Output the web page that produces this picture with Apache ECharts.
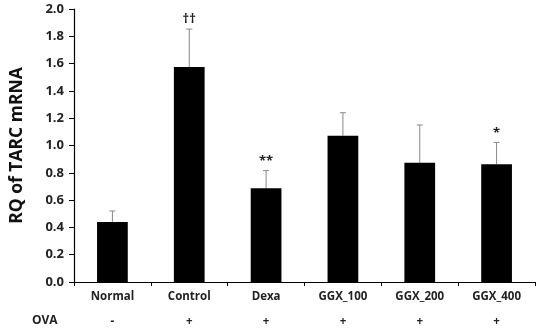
<!DOCTYPE html>
<html><head><meta charset="utf-8">
<script src="https://cdn.jsdelivr.net/npm/echarts@6/dist/echarts.min.js"></script>
<style>html,body{margin:0;padding:0;background:#fff}#c{width:540px;height:333px}</style>
</head><body><div id="c"></div>
<script>
var categories = ['Normal','Control','Dexa','GGX_100','GGX_200','GGX_400'];
var ova = ['-','+','+','+','+','+'];
var means = [0.44, 1.575, 0.686, 1.072, 0.874, 0.862];
var errors = [0.08, 0.278, 0.13, 0.168, 0.276, 0.161];
var marks = ['', '††', '**', '', '', '*'];
var yTicks = ['0.0','0.2','0.4','0.6','0.8','1.0','1.2','1.4','1.6','1.8','2.0'];

var font = '"Open Sans", "Noto Sans", sans-serif';
var chart = echarts.init(document.getElementById('c'));
chart.setOption({
  animation:false,
  grid:{left:72,right:5,top:9,bottom:51},
  xAxis:{type:'category',data:categories,
    axisLine:{lineStyle:{color:'#000',width:1.2}},
    axisTick:{show:true,length:4,lineStyle:{color:'#000'}},
    axisLabel:{interval:0,margin:8,
      formatter:function(v,i){return '{a|'+v+'}\n{b|'+ova[i]+'}';},
      rich:{a:{fontFamily:font,fontWeight:'bold',fontSize:11.5,color:'#222',lineHeight:14},
            b:{fontFamily:font,fontWeight:'bold',fontSize:11.5,color:'#222',lineHeight:36}}}},
  yAxis:{type:'value',min:0,max:2,interval:0.2,
    name:'RQ of TARC mRNA',nameLocation:'middle',nameGap:48,
    nameTextStyle:{fontFamily:font,fontWeight:'bold',fontSize:17.5,color:'#111'},
    axisLine:{show:true,lineStyle:{color:'#000',width:1.2}},
    axisTick:{show:true,length:5,lineStyle:{color:'#000'}},
    splitLine:{show:false},
    axisLabel:{margin:10,fontFamily:font,fontWeight:'bold',fontSize:13,color:'#222',
      formatter:function(v){return yTicks[Math.round(v*5)];}}},
  graphic:[{type:'text',left:32,top:315,style:{text:'OVA',fontFamily:font,fontWeight:'bold',fontSize:12,fill:'#222'}}],
  series:[
    {type:'bar',data:means,barWidth:'40%',itemStyle:{color:'#000'}},
    {type:'custom',
     data:means.map(function(m,i){return [i,m,m+errors[i]];}),
     z:1,
     renderItem:function(params,api){
       var x=api.value(0);
       var p0=api.coord([x,api.value(1)]);
       var p1=api.coord([x,api.value(2)]);
       var i=params.dataIndex;
       var ch=[
         {type:'line',shape:{x1:p0[0],y1:p0[1],x2:p1[0],y2:p1[1]},style:{stroke:'#888',lineWidth:1}},
         {type:'line',shape:{x1:p1[0]-3,y1:p1[1],x2:p1[0]+3,y2:p1[1]},style:{stroke:'#888',lineWidth:1}}
       ];
       if(marks[i]){
         ch.push({type:'text',style:{text:marks[i],x:p1[0],y:p1[1]-3,align:'center',verticalAlign:'bottom',
           fontFamily:font,fontWeight:'bold',fontSize:13,fill:'#222'}});
       }
       return {type:'group',children:ch};
     }}
  ]
});
</script></body></html>
